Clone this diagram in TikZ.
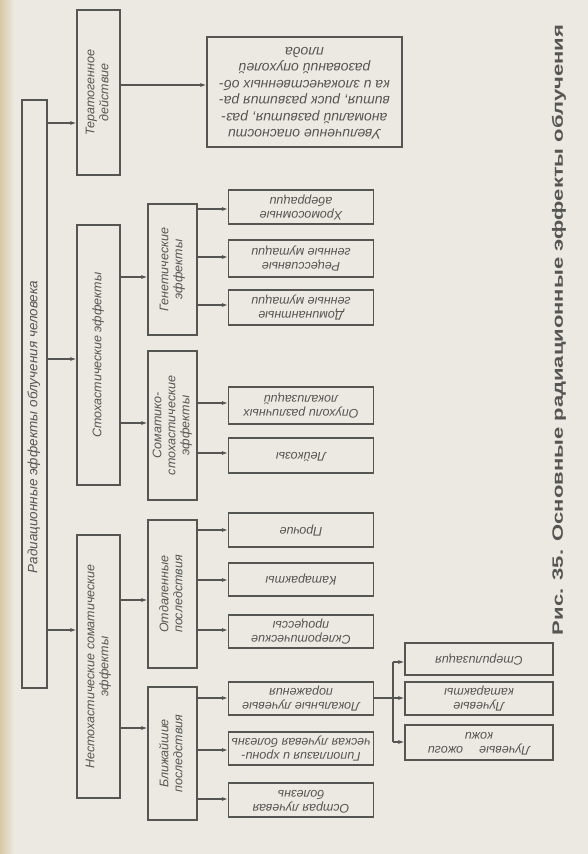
\documentclass[tikz,border=0pt]{standalone}
\usepackage{fontspec}
\setmainfont{Liberation Sans}
\usepackage{graphicx}
\usetikzlibrary{arrows.meta}

\definecolor{paper}{HTML}{ECE9E2}
\definecolor{edge}{HTML}{D8C9A4}
\definecolor{ink}{HTML}{555553}

% text turned a quarter up (boxes of the tree) and upside down (leaves)
\newcommand{\uptext}[1]{\rotatebox{90}{\begin{tabular}{@{}c@{}}#1\end{tabular}}}
\newcommand{\flipped}[1]{\rotatebox{180}{\begin{tabular}{@{}c@{}}#1\end{tabular}}}

\begin{document}
\begin{tikzpicture}[x=1pt,y=-1pt,
    box/.style={draw=ink, line width=1.2pt, inner sep=0pt, text=ink,
      font=\fontsize{12.5}{14}\selectfont\itshape},
    arr/.style={draw=ink, line width=1.1pt, -{Latex[length=6pt,width=4pt]}}]
    % page
    \fill[paper] (0,0) rectangle (588,854);
    \fill[left color=edge, right color=paper] (0,0) rectangle (14,854);
    \useasboundingbox (0,0) rectangle (588,854);

    % root and first level
    \node[box, minimum width=25pt, minimum height=588pt] (root) at (34.5,394)
      {\uptext{\fontsize{13.5}{14}\selectfont Радиационные эффекты облучения человека\hspace*{66pt}}};
    \node[box, minimum width=43pt, minimum height=165pt] (terat) at (98.5,92.5)
      {\uptext{Тератогенное\\действие}};
    \node[box, minimum width=43pt, minimum height=260pt] (stoch) at (98.5,355)
      {\uptext{Стохастические эффекты}};
    \node[box, minimum width=43pt, minimum height=263pt] (nonst) at (98.5,666.5)
      {\uptext{Нестохастические соматические\\эффекты}};

    % second level
    \node[box, minimum width=49pt, minimum height=131pt] (genet) at (172.5,269.5)
      {\uptext{Генетические\\эффекты}};
    \node[box, minimum width=49pt, minimum height=149pt] (somst) at (172.5,425.5)
      {\uptext{Соматико-\\стохастические\\эффекты}};
    \node[box, minimum width=49pt, minimum height=148pt] (later) at (172.5,594)
      {\uptext{Отдаленные\\последствия}};
    \node[box, minimum width=49pt, minimum height=133pt] (early) at (172.5,753.5)
      {\uptext{Ближайшие\\последствия}};

    % leaves
    \node[box, minimum width=195pt, minimum height=110pt] (tleaf) at (304.5,92)
      {\fontsize{14}{16.5}\selectfont\flipped{Увеличение опасности\\аномалий развития, раз-\\вития, риск развития ра-\\ка и злокачественных об-\\разований опухолей\\плода}};
    \node[box, minimum width=145pt, minimum height=34pt] (chrom) at (301,207)
      {\flipped{Хромосомные\\аберрации}};
    \node[box, minimum width=145pt, minimum height=37pt] (recess) at (301,258.5)
      {\flipped{Рецессивные\\генные мутации}};
    \node[box, minimum width=145pt, minimum height=35pt] (domin) at (301,307.5)
      {\flipped{Доминантные\\генные мутации}};
    \node[box, minimum width=145pt, minimum height=37pt] (tumor) at (301,405.5)
      {\flipped{Опухоли различных\\локализаций}};
    \node[box, minimum width=145pt, minimum height=35pt] (leuk) at (301,455.5)
      {\flipped{Лейкозы}};
    \node[box, minimum width=145pt, minimum height=34pt] (other) at (301,530)
      {\flipped{Прочие}};
    \node[box, minimum width=145pt, minimum height=33pt] (catar) at (301,579.5)
      {\flipped{Катаракты}};
    \node[box, minimum width=145pt, minimum height=33pt] (scler) at (301,631.5)
      {\flipped{Склеротические\\процессы}};
    \node[box, minimum width=145pt, minimum height=33pt] (local) at (301,698.5)
      {\flipped{Локальные лучевые\\поражения}};
    \node[box, minimum width=145pt, minimum height=33pt] (chron) at (301,748.5)
      {\flipped{Гипоплазия и хрони-\\ческая лучевая болезнь}};
    \node[box, minimum width=145pt, minimum height=34pt] (acute) at (301,800)
      {\flipped{Острая лучевая\\болезнь}};
    \node[box, minimum width=148pt, minimum height=32pt] (steril) at (479,659)
      {\flipped{Стерилизация}};
    \node[box, minimum width=148pt, minimum height=33pt] (lcatar) at (479,698.5)
      {\flipped{Лучевые\\катаракты}};
    \node[box, minimum width=148pt, minimum height=35pt] (burns) at (479,742.5)
      {\flipped{Лучевые \quad ожоги\\кожи}};

    % caption
    \node[text=ink, font=\bfseries] (caption) at (559,330)
      {\rotatebox{90}{\resizebox{610pt}{11pt}{Рис. 35. Основные радиационные эффекты облучения}}};

    % arrows
    \draw[arr] (root.east |- 0,123) -- (terat.west |- 0,123);
    \draw[arr] (root.east |- 0,359) -- (stoch.west |- 0,359);
    \draw[arr] (root.east |- 0,630) -- (nonst.west |- 0,630);
    \draw[arr] (terat.east |- 0,85) -- (tleaf.west |- 0,85);
    \draw[arr] (stoch.east |- 0,277) -- (genet.west |- 0,277);
    \draw[arr] (stoch.east |- 0,423) -- (somst.west |- 0,423);
    \draw[arr] (nonst.east |- 0,600) -- (later.west |- 0,600);
    \draw[arr] (nonst.east |- 0,728) -- (early.west |- 0,728);
    \draw[arr] (genet.east |- 0,209) -- (chrom.west |- 0,209);
    \draw[arr] (genet.east |- 0,257) -- (recess.west |- 0,257);
    \draw[arr] (genet.east |- 0,305) -- (domin.west |- 0,305);
    \draw[arr] (somst.east |- 0,403) -- (tumor.west |- 0,403);
    \draw[arr] (somst.east |- 0,453) -- (leuk.west |- 0,453);
    \draw[arr] (later.east |- 0,530) -- (other.west |- 0,530);
    \draw[arr] (later.east |- 0,580) -- (catar.west |- 0,580);
    \draw[arr] (later.east |- 0,630) -- (scler.west |- 0,630);
    \draw[arr] (early.east |- 0,698) -- (local.west |- 0,698);
    \draw[arr] (early.east |- 0,750) -- (chron.west |- 0,750);
    \draw[arr] (early.east |- 0,799) -- (acute.west |- 0,799);

    % third level branches off the local injuries
    \coordinate (fork) at (393,698);
    \draw[draw=ink, line width=1.1pt] (local.east |- fork) -- (fork);
    \draw[draw=ink, line width=1.1pt] (fork |- 0,662) -- (fork |- 0,742);
    \draw[arr] (fork |- 0,662) -- (steril.west |- 0,662);
    \draw[arr] (fork) -- (lcatar.west |- fork);
    \draw[arr] (fork |- 0,742) -- (burns.west |- 0,742);
\end{tikzpicture}
\end{document}
